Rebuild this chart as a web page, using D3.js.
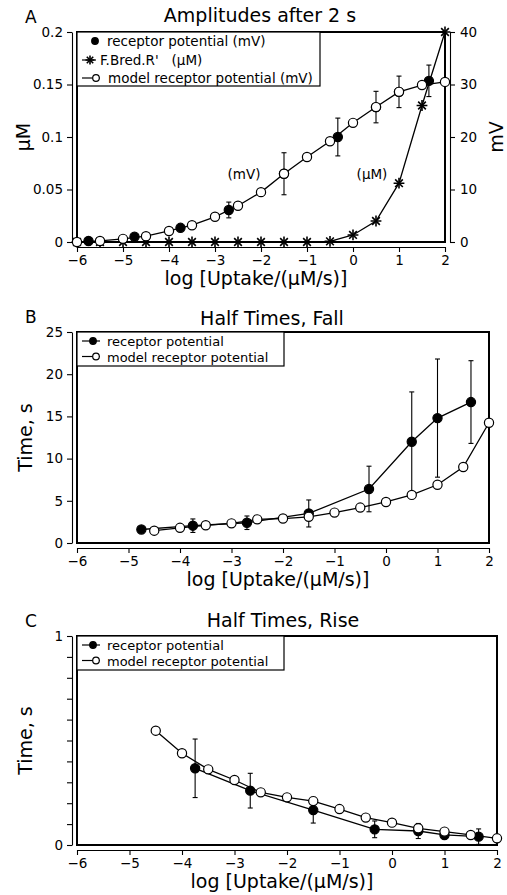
<!DOCTYPE html>
<html>
<head>
<meta charset="utf-8">
<script src="https://cdn.jsdelivr.net/npm/d3@7"></script>
<style>
    body { margin: 0; background: #fff; }
    svg text { font-family: "DejaVu Sans", sans-serif; fill: #000; }
</style>
</head>
<body>
<svg id="chart" width="507" height="895"></svg>
<script>
// ---- Panel A: amplitudes after 2 s ----
const ampModelX   = [-6, -5.5, -5, -4.5, -4, -3.5, -3, -2.5, -2, -1.5, -1, -0.5, 0, 0.5, 1, 1.5, 2];
const ampModelMv  = [0, 0.2, 0.6, 1.1, 2.1, 3.2, 4.8, 6.9, 9.5, 13.0, 16.2, 19.2, 22.7, 25.7, 28.6, 29.9, 30.5];
const ampRecX     = [-5.75, -4.75, -3.75, -2.7, -1.5, -0.33, 0.5, 1.0, 1.65];
const ampRecMv    = [0.2, 1.0, 2.7, 6.1, 13.0, 20.0, 25.7, 28.6, 30.7];
const ampRecErr   = [0, 0, 0, 1.5, 4.0, 3.6, 3.0, 3.0, 3.0];
const ampFbredX   = [-6, -5.5, -5, -4.5, -4, -3.5, -3, -2.5, -2, -1.5, -1, -0.5, 0, 0.5, 1, 1.5, 2];
const ampFbredUm  = [0, 0, 0, 0, 0, 0, 0, 0, 0, 0, 0, 0.0006, 0.0067, 0.02, 0.056, 0.13, 0.2];

// ---- Panel B: half times, fall ----
const fallRecX    = [-4.75, -3.75, -2.7, -1.5, -0.33, 0.5, 1.0, 1.65];
const fallRecY    = [1.6, 2.05, 2.4, 3.5, 6.4, 12.0, 14.8, 16.7];
const fallRecErr  = [0, 0.8, 0.8, 1.6, 2.7, 5.9, 7.0, 4.9];
const fallModelX  = [-4.5, -4, -3.5, -3, -2.5, -2, -1.5, -1, -0.5, 0, 0.5, 1, 1.5, 2];
const fallModelY  = [1.46, 1.8, 2.1, 2.33, 2.8, 2.9, 3.1, 3.6, 4.2, 4.86, 5.7, 6.9, 9.0, 14.25];

// ---- Panel C: half times, rise ----
const riseRecX    = [-3.75, -2.7, -1.5, -0.33, 0.5, 1.0, 1.65];
const riseRecY    = [0.367, 0.26, 0.167, 0.075, 0.067, 0.048, 0.04];
const riseRecErr  = [0.14, 0.083, 0.062, 0.04, 0.036, 0.01, 0.037];
const riseModelX  = [-4.5, -4, -3.5, -3, -2.5, -2, -1.5, -1, -0.5, 0, 0.5, 1, 1.5, 2];
const riseModelY  = [0.547, 0.439, 0.362, 0.311, 0.252, 0.228, 0.21, 0.172, 0.131, 0.107, 0.08, 0.064, 0.048, 0.032];

// axis ticks and labels
const xTicks      = [-6, -5, -4, -3, -2, -1, 0, 1, 2];
const ampUmTicks  = [0, 0.05, 0.1, 0.15, 0.2];
const ampMvTicks  = [0, 10, 20, 30, 40];
const fallTicks   = [0, 5, 10, 15, 20, 25];
const riseTicks   = [0, 0.1, 0.2, 0.3, 0.4, 0.5, 0.6, 0.7, 0.8, 0.9, 1];
const xLabel      = 'log [Uptake/(\u00b5M/s)]';
const legendA     = ['receptor potential (mV)', 'F.Bred.R\'   (\u00b5M)', 'model receptor potential (mV)'];
const legendBC    = ['receptor potential', 'model receptor potential'];

const svg = d3.select('#chart');
const fmt = d3.format('~f');

function styleAxis(sel) {
    sel.attr('font-size', 13.5).attr('font-family', null);
    sel.selectAll('path, line').attr('stroke', '#000').attr('stroke-width', 1.1);
}

// a marker: 'open', 'filled' or 'star'
function marker(g, kind, cx, cy, r) {
    if (kind === 'star') {
        [d3.symbolPlus, d3.symbolTimes].forEach(t => {
            g.append('path')
                .attr('d', d3.symbol(t, r * 8)())
                .attr('transform', `translate(${cx},${cy})`)
                .attr('fill', 'none').attr('stroke', '#000').attr('stroke-width', 1.6);
        });
    } else {
        g.append('circle')
            .attr('cx', cx).attr('cy', cy).attr('r', r)
            .attr('fill', kind === 'filled' ? '#000' : '#fff')
            .attr('stroke', '#000').attr('stroke-width', 1.2);
    }
}

function series(g, x, y, xs, ys, kind, withLine, errs) {
    const pts = xs.map((d, i) => [d, ys[i], errs ? errs[i] : 0]);
    if (withLine) {
        g.append('path')
            .attr('d', d3.line().x(d => x(d[0])).y(d => y(d[1]))(pts))
            .attr('fill', 'none').attr('stroke', '#000').attr('stroke-width', 1.3);
    }
    pts.filter(d => d[2] > 0).forEach(d => {
        const cx = x(d[0]), top = y(d[1] + d[2]), bot = y(d[1] - d[2]);
        const eb = g.append('g').attr('stroke', '#000').attr('stroke-width', 1.1);
        eb.append('line').attr('x1', cx).attr('x2', cx).attr('y1', top).attr('y2', bot);
        eb.append('line').attr('x1', cx - 2.5).attr('x2', cx + 2.5).attr('y1', top).attr('y2', top);
        eb.append('line').attr('x1', cx - 2.5).attr('x2', cx + 2.5).attr('y1', bot).attr('y2', bot);
    });
    pts.forEach(d => marker(g, kind, x(d[0]), y(d[1]), kind === 'star' ? 5 : 4.6));
}

function legend(g, x0, top, right, bottom, fontSize, rows) {
    g.append('rect')
        .attr('x', x0).attr('y', top).attr('width', right - x0).attr('height', bottom - top)
        .attr('fill', '#fff').attr('stroke', '#000').attr('stroke-width', 1.2);
    rows.forEach(r => {
        if (r.line) {
            g.append('line').attr('x1', 82).attr('x2', r.lx2 || 100).attr('y1', r.y).attr('y2', r.y)
                .attr('stroke', '#000').attr('stroke-width', 1.2);
        }
        marker(g, r.kind, r.mx, r.y, r.kind === 'star' ? 3.6 : 3.3);
        g.append('text').attr('x', r.tx).attr('y', r.y + 5)
            .attr('font-size', fontSize).style('white-space', 'pre').text(r.label);
    });
}

function panel(cfg) {
    const g = svg.append('g');
    const x = d3.scaleLinear().domain([-6, 2]).range(cfg.xRange);
    const y = d3.scaleLinear().domain(cfg.yDomain).range(cfg.yRange);
    const [xl, xr] = cfg.xRange, [yb, yt] = cfg.yRange;

    // bottom axis
    g.append('g').attr('transform', `translate(0,${yb + 5})`)
        .call(d3.axisBottom(x).tickValues(xTicks).tickSize(5).tickPadding(3).tickSizeOuter(0))
        .call(styleAxis);
    // left axis
    g.append('g').attr('transform', `translate(${xl - 5},0)`)
        .call(d3.axisLeft(y).tickValues(cfg.yTicks).tickFormat(cfg.yFormat).tickSize(5).tickPadding(4).tickSizeOuter(0))
        .call(styleAxis);

    // frame
    g.append('rect')
        .attr('x', xl).attr('y', yt).attr('width', xr - xl).attr('height', yb - yt)
        .attr('fill', 'none').attr('stroke', '#000').attr('stroke-width', 2);

    // titles and labels
    g.append('text').attr('x', 25).attr('y', yt - 9).attr('font-size', 17).text(cfg.letter);
    g.append('text').attr('x', cfg.titleX).attr('y', yt - cfg.titleGap)
        .attr('text-anchor', 'middle').attr('font-size', 19).text(cfg.title);
    g.append('text').attr('x', (xl + xr) / 2 - 5).attr('y', Math.min(yb + 43, 888))
        .attr('text-anchor', 'middle').attr('font-size', 19).text(xLabel);
    g.append('text')
        .attr('transform', `translate(${cfg.yLabelX},${(yb + yt) / 2}) rotate(-90)`)
        .attr('text-anchor', 'middle').attr('font-size', 19).text(cfg.yLabel);

    return { g, x, y };
}

// ---------- A ----------
(function() {
    const p = panel({
        letter: 'A', title: 'Amplitudes after 2 s', titleX: 260, titleGap: 10,
        xRange: [77, 445], yDomain: [0, 0.2], yRange: [242, 32],
        yTicks: ampUmTicks, yFormat: fmt, yLabel: '\u00b5M', yLabelX: 30
    });
    const y2 = d3.scaleLinear().domain([0, 40]).range([242, 32]);
    p.g.append('g').attr('transform', 'translate(450,0)')
        .call(d3.axisRight(y2).tickValues(ampMvTicks).tickSize(5).tickPadding(5).tickSizeOuter(0))
        .call(styleAxis);
    p.g.append('text').attr('transform', 'translate(503,137) rotate(-90)')
        .attr('text-anchor', 'middle').attr('font-size', 19).text('mV');

    series(p.g, p.x, p.y, ampFbredX, ampFbredUm, 'star', true);
    series(p.g, p.x, y2, ampRecX, ampRecMv, 'filled', false, ampRecErr);
    series(p.g, p.x, y2, ampModelX, ampModelMv, 'open', true);

    p.g.append('text').attr('x', 244).attr('y', 179).attr('text-anchor', 'middle')
        .attr('font-size', 13.5).text('(mV)');
    p.g.append('text').attr('x', 372).attr('y', 179).attr('text-anchor', 'middle')
        .attr('font-size', 13.5).text('(\u00b5M)');

    legend(p.g, 77, 32, 320, 86, 13.5, [
        { label: legendA[0], kind: 'filled', line: false, mx: 95, tx: 107, y: 41 },
        { label: legendA[1], kind: 'star', line: true, lx2: 96, mx: 90, tx: 100, y: 60 },
        { label: legendA[2], kind: 'open', line: true, mx: 96, tx: 108, y: 78 }
    ]);
})();

// ---------- B ----------
(function() {
    const p = panel({
        letter: 'B', title: 'Half Times, Fall', titleX: 272, titleGap: 7,
        xRange: [77, 489], yDomain: [0, 25], yRange: [543, 332],
        yTicks: fallTicks, yFormat: fmt, yLabel: 'Time, s', yLabelX: 32
    });
    series(p.g, p.x, p.y, fallRecX, fallRecY, 'filled', true, fallRecErr);
    series(p.g, p.x, p.y, fallModelX, fallModelY, 'open', true);
    legend(p.g, 77, 332, 284, 366, 13, [
        { label: legendBC[0], kind: 'filled', line: true, mx: 93, tx: 107, y: 341 },
        { label: legendBC[1], kind: 'open', line: true, mx: 96, tx: 107, y: 356.5 }
    ]);
})();

// ---------- C ----------
(function() {
    const p = panel({
        letter: 'C', title: 'Half Times, Rise', titleX: 283, titleGap: 9,
        xRange: [77, 497], yDomain: [0, 1], yRange: [845, 636],
        yTicks: riseTicks, yFormat: d => (d === 0 || d === 1) ? d : '', yLabel: 'Time, s', yLabelX: 32
    });
    series(p.g, p.x, p.y, riseRecX, riseRecY, 'filled', true, riseRecErr);
    series(p.g, p.x, p.y, riseModelX, riseModelY, 'open', true);
    legend(p.g, 77, 636, 284, 670, 13, [
        { label: legendBC[0], kind: 'filled', line: true, mx: 93, tx: 107, y: 645 },
        { label: legendBC[1], kind: 'open', line: true, mx: 96, tx: 107, y: 660.5 }
    ]);
})();
</script>
</body>
</html>
